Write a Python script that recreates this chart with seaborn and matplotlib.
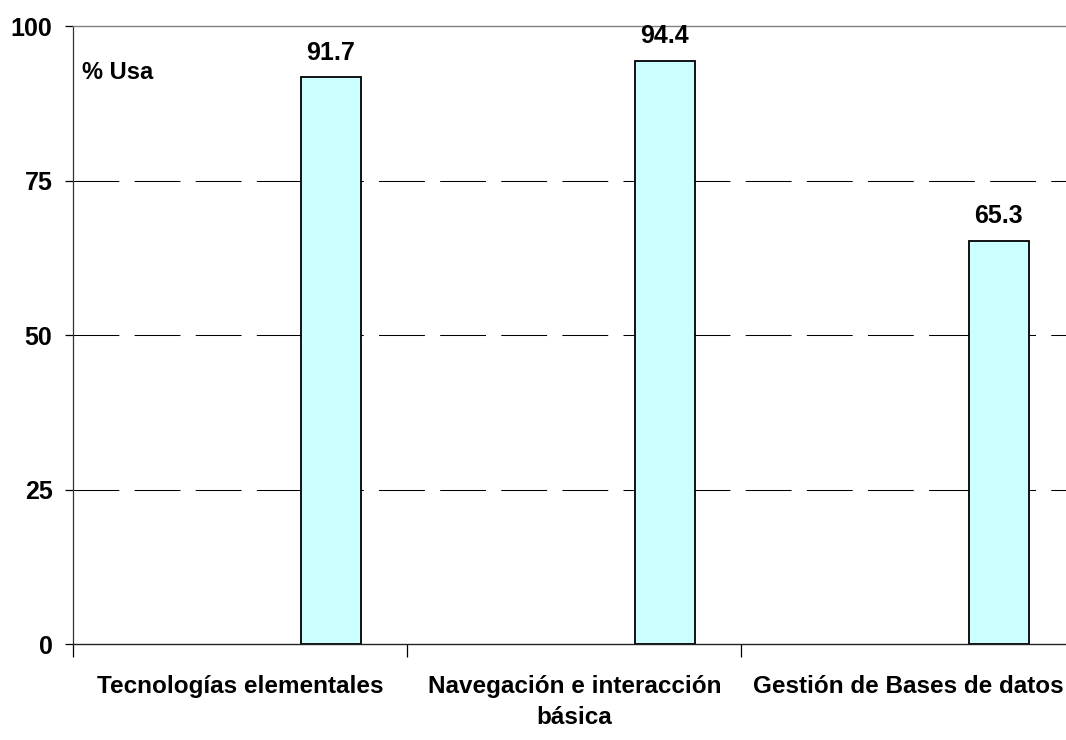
import matplotlib
matplotlib.use("Agg")
import matplotlib.pyplot as plt
import seaborn as sns
import pandas as pd
import numpy as np

categories = ["Tecnologías elementales", "Navegación e interacción\nbásica", "Gestión de Bases de datos"]
values = [91.7, 94.4, 65.3]
series_name = "Usa"
blank_series = "vacío"
y_ticks = [0, 25, 50, 75, 100]
y_axis_text = "% Usa"

sns.set_theme(style="white")
plt.rcParams["font.family"] = ["Liberation Sans", "DejaVu Sans"]
plt.rcParams["lines.scale_dashes"] = False
plt.rcParams["text.color"] = "black"
plt.rcParams["xtick.color"] = "black"
plt.rcParams["ytick.color"] = "black"

df = pd.DataFrame({
    "categoria": categories + categories,
    "valor": [np.nan] * len(categories) + values,
    "serie": [blank_series] * len(categories) + [series_name] * len(categories),
})

fig = plt.figure(figsize=(10.66, 7.4), dpi=100)
ax = fig.add_axes([0.0688, 0.1297, 0.940, 0.835])

sns.barplot(data=df, x="categoria", y="valor", hue="serie", hue_order=[blank_series, series_name],
            order=categories, palette={blank_series: "#CCFFFF", series_name: "#CCFFFF"},
            width=1.084, gap=0.668, dodge=True, saturation=1, edgecolor="black", linewidth=1.3,
            legend=False, ax=ax, errorbar=None)

for cont in ax.containers:
    heights = [b.get_height() for b in cont]
    if any(np.isfinite(h) for h in heights):
        ax.bar_label(cont, fmt="%.1f", padding=9, fontsize=18, fontweight="bold", color="black")

ax.set_xlim(-0.5, 2.5)
ax.set_ylim(y_ticks[0], y_ticks[-1])
ax.set_yticks(y_ticks)
ax.set_yticklabels([str(t) for t in y_ticks])
ax.set_xlabel("")
ax.set_ylabel("")

ax.set_axisbelow(True)
ax.yaxis.grid(True, color="black", linewidth=0.75, linestyle=(0, (33, 11)))
gl = ax.get_ygridlines()
gl[0].set_visible(False)
gl[-1].set_visible(False)
ax.xaxis.grid(False)

ax.tick_params(axis="y", which="major", direction="out", length=6, width=0.9, color="black",
               pad=9, labelsize=18, left=True)
for lab in ax.get_yticklabels():
    lab.set_fontweight("bold")
ax.tick_params(axis="x", which="major", length=0, pad=22, labelsize=17.5)
for lab in ax.get_xticklabels():
    lab.set_fontweight("bold")
    lab.set_multialignment("center")
    lab.set_linespacing(1.45)
ax.set_xticks([-0.5, 0.5, 1.5], minor=True)
ax.tick_params(axis="x", which="minor", direction="out", length=9, width=0.9, color="black", bottom=True)

ax.spines["left"].set_color("#333333")
ax.spines["left"].set_linewidth(0.9)
ax.spines["bottom"].set_color("#222222")
ax.spines["bottom"].set_linewidth(1.0)
ax.spines["top"].set_color("#808080")
ax.spines["top"].set_linewidth(1.0)
ax.spines["right"].set_visible(False)

ax.text(0.0087, 0.925, y_axis_text, transform=ax.transAxes, ha="left", va="center",
        fontsize=17, fontweight="bold", color="black")

fig.savefig("out.png", dpi=100)
